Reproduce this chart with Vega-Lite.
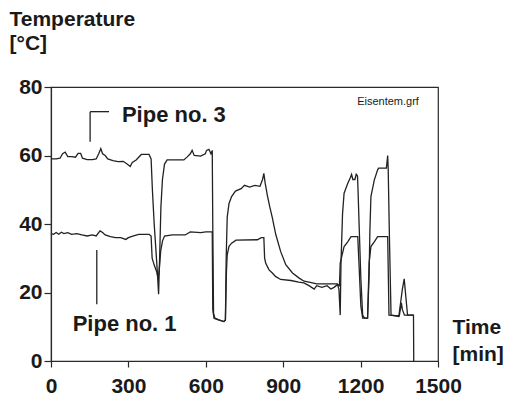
{
  "$schema": "https://vega.github.io/schema/vega-lite/v6.json",
  "width": 387,
  "height": 274,
  "autosize": {"type": "none"},
  "padding": {"left": 51, "top": 87, "right": 69, "bottom": 36},
  "background": "white",
  "config": {
    "view": {"stroke": "#2a2a2a", "strokeWidth": 1.2},
    "font": "Liberation Sans",
    "axis": {"grid": false, "domainColor": "#2a2a2a", "tickColor": "#2a2a2a", "labelColor": "#1a1a1a", "titleColor": "#1a1a1a", "labelFont": "Liberation Sans", "labelFontWeight": "bold", "labelFontSize": 21, "titleFont": "Liberation Sans", "titleFontWeight": "bold", "titleFontSize": 21, "domainWidth": 1.2, "tickWidth": 1.2}
  },
  "datasets": {
    "series": [
      {"pipe": "3", "t": 0, "temp": 59}, {"pipe": "3", "t": 20, "temp": 59}, {"pipe": "3", "t": 35, "temp": 59.2}, {"pipe": "3", "t": 45, "temp": 60.5}, {"pipe": "3", "t": 55, "temp": 61}, {"pipe": "3", "t": 65, "temp": 59.7}, {"pipe": "3", "t": 80, "temp": 59.7}, {"pipe": "3", "t": 95, "temp": 59.5}, {"pipe": "3", "t": 105, "temp": 60.6}, {"pipe": "3", "t": 115, "temp": 60.6}, {"pipe": "3", "t": 122, "temp": 59.2}, {"pipe": "3", "t": 140, "temp": 58.8}, {"pipe": "3", "t": 160, "temp": 58.8}, {"pipe": "3", "t": 175, "temp": 59}, {"pipe": "3", "t": 185, "temp": 60.5}, {"pipe": "3", "t": 193, "temp": 62}, {"pipe": "3", "t": 200, "temp": 60.5}, {"pipe": "3", "t": 210, "temp": 60}, {"pipe": "3", "t": 220, "temp": 59}, {"pipe": "3", "t": 240, "temp": 58.5}, {"pipe": "3", "t": 260, "temp": 58.2}, {"pipe": "3", "t": 280, "temp": 58.3}, {"pipe": "3", "t": 295, "temp": 57.5}, {"pipe": "3", "t": 307, "temp": 56.8}, {"pipe": "3", "t": 315, "temp": 58}, {"pipe": "3", "t": 330, "temp": 58.7}, {"pipe": "3", "t": 350, "temp": 60.3}, {"pipe": "3", "t": 380, "temp": 60.3}, {"pipe": "3", "t": 388, "temp": 59}, {"pipe": "3", "t": 393, "temp": 50}, {"pipe": "3", "t": 400, "temp": 40}, {"pipe": "3", "t": 407, "temp": 32}, {"pipe": "3", "t": 413, "temp": 25}, {"pipe": "3", "t": 417, "temp": 19.5}, {"pipe": "3", "t": 421, "temp": 30}, {"pipe": "3", "t": 426, "temp": 45}, {"pipe": "3", "t": 432, "temp": 53}, {"pipe": "3", "t": 440, "temp": 57.5}, {"pipe": "3", "t": 450, "temp": 58.7}, {"pipe": "3", "t": 515, "temp": 58.7}, {"pipe": "3", "t": 528, "temp": 59.6}, {"pipe": "3", "t": 540, "temp": 60.5}, {"pipe": "3", "t": 547, "temp": 61.5}, {"pipe": "3", "t": 555, "temp": 60}, {"pipe": "3", "t": 580, "temp": 59.8}, {"pipe": "3", "t": 598, "temp": 60.5}, {"pipe": "3", "t": 603, "temp": 61.5}, {"pipe": "3", "t": 612, "temp": 61.8}, {"pipe": "3", "t": 620, "temp": 60.5}, {"pipe": "3", "t": 625, "temp": 61.5}, {"pipe": "3", "t": 627, "temp": 40}, {"pipe": "3", "t": 630, "temp": 14}, {"pipe": "3", "t": 635, "temp": 12.5}, {"pipe": "3", "t": 650, "temp": 12}, {"pipe": "3", "t": 670, "temp": 11.5}, {"pipe": "3", "t": 676, "temp": 12}, {"pipe": "3", "t": 679, "temp": 30}, {"pipe": "3", "t": 683, "temp": 42}, {"pipe": "3", "t": 690, "temp": 46}, {"pipe": "3", "t": 700, "temp": 48}, {"pipe": "3", "t": 715, "temp": 49.6}, {"pipe": "3", "t": 737, "temp": 50.3}, {"pipe": "3", "t": 750, "temp": 51.3}, {"pipe": "3", "t": 770, "temp": 50.8}, {"pipe": "3", "t": 790, "temp": 51.3}, {"pipe": "3", "t": 810, "temp": 51}, {"pipe": "3", "t": 820, "temp": 53}, {"pipe": "3", "t": 825, "temp": 54.8}, {"pipe": "3", "t": 830, "temp": 52}, {"pipe": "3", "t": 838, "temp": 48.6}, {"pipe": "3", "t": 848, "temp": 45}, {"pipe": "3", "t": 858, "temp": 41.8}, {"pipe": "3", "t": 871, "temp": 37}, {"pipe": "3", "t": 890, "temp": 32}, {"pipe": "3", "t": 910, "temp": 28.1}, {"pipe": "3", "t": 936, "temp": 25.7}, {"pipe": "3", "t": 962, "temp": 24.2}, {"pipe": "3", "t": 981, "temp": 23.3}, {"pipe": "3", "t": 1000, "temp": 23}, {"pipe": "3", "t": 1030, "temp": 22.5}, {"pipe": "3", "t": 1110, "temp": 22.5}, {"pipe": "3", "t": 1116, "temp": 21}, {"pipe": "3", "t": 1121, "temp": 13.4}, {"pipe": "3", "t": 1124, "temp": 28.6}, {"pipe": "3", "t": 1130, "temp": 43}, {"pipe": "3", "t": 1136, "temp": 49}, {"pipe": "3", "t": 1150, "temp": 51.8}, {"pipe": "3", "t": 1160, "temp": 53.5}, {"pipe": "3", "t": 1165, "temp": 54.5}, {"pipe": "3", "t": 1170, "temp": 53}, {"pipe": "3", "t": 1178, "temp": 53}, {"pipe": "3", "t": 1183, "temp": 54.5}, {"pipe": "3", "t": 1188, "temp": 54}, {"pipe": "3", "t": 1190, "temp": 50}, {"pipe": "3", "t": 1195, "temp": 38}, {"pipe": "3", "t": 1201, "temp": 24}, {"pipe": "3", "t": 1208, "temp": 13.4}, {"pipe": "3", "t": 1215, "temp": 12.5}, {"pipe": "3", "t": 1227, "temp": 12.5}, {"pipe": "3", "t": 1233, "temp": 25}, {"pipe": "3", "t": 1236, "temp": 38}, {"pipe": "3", "t": 1240, "temp": 48}, {"pipe": "3", "t": 1253, "temp": 52.8}, {"pipe": "3", "t": 1266, "temp": 55.8}, {"pipe": "3", "t": 1270, "temp": 56.3}, {"pipe": "3", "t": 1300, "temp": 56.3}, {"pipe": "3", "t": 1305, "temp": 60}, {"pipe": "3", "t": 1307, "temp": 56}, {"pipe": "3", "t": 1312, "temp": 35}, {"pipe": "3", "t": 1318, "temp": 13.4}, {"pipe": "3", "t": 1348, "temp": 13}, {"pipe": "3", "t": 1355, "temp": 17}, {"pipe": "3", "t": 1362, "temp": 21}, {"pipe": "3", "t": 1369, "temp": 24}, {"pipe": "3", "t": 1375, "temp": 19}, {"pipe": "3", "t": 1382, "temp": 13.4}, {"pipe": "3", "t": 1405, "temp": 13.4}, {"pipe": "3", "t": 1406, "temp": 0},
      {"pipe": "1", "t": 0, "temp": 37.2}, {"pipe": "1", "t": 10, "temp": 37}, {"pipe": "1", "t": 20, "temp": 37.5}, {"pipe": "1", "t": 30, "temp": 37}, {"pipe": "1", "t": 40, "temp": 37.6}, {"pipe": "1", "t": 50, "temp": 37.2}, {"pipe": "1", "t": 65, "temp": 37.5}, {"pipe": "1", "t": 80, "temp": 37}, {"pipe": "1", "t": 100, "temp": 37.2}, {"pipe": "1", "t": 120, "temp": 36.8}, {"pipe": "1", "t": 140, "temp": 36.5}, {"pipe": "1", "t": 160, "temp": 36.8}, {"pipe": "1", "t": 175, "temp": 36.5}, {"pipe": "1", "t": 190, "temp": 38}, {"pipe": "1", "t": 200, "temp": 37.5}, {"pipe": "1", "t": 210, "temp": 36.8}, {"pipe": "1", "t": 230, "temp": 36.3}, {"pipe": "1", "t": 250, "temp": 36}, {"pipe": "1", "t": 270, "temp": 36}, {"pipe": "1", "t": 290, "temp": 35.5}, {"pipe": "1", "t": 300, "temp": 36}, {"pipe": "1", "t": 320, "temp": 36.5}, {"pipe": "1", "t": 340, "temp": 37}, {"pipe": "1", "t": 380, "temp": 37}, {"pipe": "1", "t": 388, "temp": 36.5}, {"pipe": "1", "t": 392, "temp": 30}, {"pipe": "1", "t": 400, "temp": 28}, {"pipe": "1", "t": 410, "temp": 26}, {"pipe": "1", "t": 415, "temp": 24}, {"pipe": "1", "t": 420, "temp": 27}, {"pipe": "1", "t": 425, "temp": 32}, {"pipe": "1", "t": 432, "temp": 35}, {"pipe": "1", "t": 440, "temp": 36.5}, {"pipe": "1", "t": 470, "temp": 36.8}, {"pipe": "1", "t": 520, "temp": 36.8}, {"pipe": "1", "t": 540, "temp": 37.7}, {"pipe": "1", "t": 580, "temp": 37.5}, {"pipe": "1", "t": 600, "temp": 37.7}, {"pipe": "1", "t": 625, "temp": 37.7}, {"pipe": "1", "t": 627, "temp": 15}, {"pipe": "1", "t": 632, "temp": 12.5}, {"pipe": "1", "t": 650, "temp": 12}, {"pipe": "1", "t": 670, "temp": 11.5}, {"pipe": "1", "t": 676, "temp": 12}, {"pipe": "1", "t": 680, "temp": 26}, {"pipe": "1", "t": 683, "temp": 31}, {"pipe": "1", "t": 690, "temp": 33.5}, {"pipe": "1", "t": 700, "temp": 34.4}, {"pipe": "1", "t": 717, "temp": 35.3}, {"pipe": "1", "t": 800, "temp": 35.4}, {"pipe": "1", "t": 815, "temp": 36}, {"pipe": "1", "t": 825, "temp": 36}, {"pipe": "1", "t": 828, "temp": 30}, {"pipe": "1", "t": 832, "temp": 28.6}, {"pipe": "1", "t": 845, "temp": 26.6}, {"pipe": "1", "t": 858, "temp": 25.7}, {"pipe": "1", "t": 870, "temp": 24.7}, {"pipe": "1", "t": 890, "temp": 23.8}, {"pipe": "1", "t": 930, "temp": 23.5}, {"pipe": "1", "t": 960, "temp": 23}, {"pipe": "1", "t": 980, "temp": 22.8}, {"pipe": "1", "t": 1000, "temp": 22}, {"pipe": "1", "t": 1020, "temp": 21}, {"pipe": "1", "t": 1030, "temp": 22}, {"pipe": "1", "t": 1050, "temp": 21.5}, {"pipe": "1", "t": 1070, "temp": 22}, {"pipe": "1", "t": 1085, "temp": 21}, {"pipe": "1", "t": 1097, "temp": 21.5}, {"pipe": "1", "t": 1110, "temp": 22.3}, {"pipe": "1", "t": 1118, "temp": 22}, {"pipe": "1", "t": 1121, "temp": 28.6}, {"pipe": "1", "t": 1130, "temp": 31.5}, {"pipe": "1", "t": 1136, "temp": 33.4}, {"pipe": "1", "t": 1150, "temp": 34.8}, {"pipe": "1", "t": 1163, "temp": 36.3}, {"pipe": "1", "t": 1189, "temp": 36.3}, {"pipe": "1", "t": 1194, "temp": 28}, {"pipe": "1", "t": 1201, "temp": 16}, {"pipe": "1", "t": 1208, "temp": 12.5}, {"pipe": "1", "t": 1227, "temp": 12.5}, {"pipe": "1", "t": 1233, "temp": 28.6}, {"pipe": "1", "t": 1240, "temp": 33.4}, {"pipe": "1", "t": 1253, "temp": 34.8}, {"pipe": "1", "t": 1266, "temp": 36.3}, {"pipe": "1", "t": 1305, "temp": 36.3}, {"pipe": "1", "t": 1310, "temp": 13.4}, {"pipe": "1", "t": 1350, "temp": 13.2}, {"pipe": "1", "t": 1358, "temp": 17}, {"pipe": "1", "t": 1362, "temp": 15}, {"pipe": "1", "t": 1370, "temp": 13.4}, {"pipe": "1", "t": 1405, "temp": 13.4}
    ],
    "labels": [
      {"t": 275, "temp": 69.9, "text": "Pipe no. 3"},
      {"t": 84, "temp": 8.8, "text": "Pipe no. 1"}
    ],
    "note": [
      {"t": 1426, "temp": 75.7, "text": "Eisentem.grf"}
    ],
    "leaders": [
      {"t": 151.6, "t2": 225, "temp": 72.8, "temp2": 72.8},
      {"t": 151.6, "t2": 151.6, "temp": 64, "temp2": 72.8},
      {"t": 177.5, "t2": 177.5, "temp": 16.6, "temp2": 32.4}
    ]
  },
  "layer": [
    {
      "data": {"name": "series"},
      "mark": {"type": "line", "color": "#222222", "strokeWidth": 1.3, "interpolate": "linear"},
      "encoding": {
        "x": {"field": "t", "type": "quantitative", "scale": {"domain": [0, 1500], "nice": false},
          "axis": {"values": [0, 300, 600, 900, 1200, 1500], "format": "d", "tickSize": 6, "labelPadding": 8, "labelFlush": false, "labelOverlap": false,
            "title": ["Time", "[min]"], "titleAngle": 0, "titleAlign": "left", "titleBaseline": "alphabetic", "titleX": 401, "titleY": -28, "titleLineHeight": 27}},
        "y": {"field": "temp", "type": "quantitative", "scale": {"domain": [0, 80], "nice": false},
          "axis": {"values": [0, 20, 40, 60, 80], "tickSize": 7, "labelPadding": 2, "labelFlush": false, "labelOverlap": false,
            "title": ["Temperature", "[°C]"], "titleAngle": 0, "titleAlign": "left", "titleBaseline": "alphabetic", "titleX": -42, "titleY": -62, "titleLineHeight": 24}},
        "detail": {"field": "pipe", "type": "nominal"}
      }
    },
    {
      "data": {"name": "leaders"},
      "mark": {"type": "rule", "color": "#222222", "strokeWidth": 1.3},
      "encoding": {
        "x": {"field": "t", "type": "quantitative"},
        "x2": {"field": "t2"},
        "y": {"field": "temp", "type": "quantitative"},
        "y2": {"field": "temp2"}
      }
    },
    {
      "data": {"name": "labels"},
      "mark": {"type": "text", "align": "left", "baseline": "alphabetic", "font": "Liberation Sans", "fontWeight": "bold", "fontSize": 22, "color": "#1a1a1a"},
      "encoding": {
        "x": {"field": "t", "type": "quantitative"},
        "y": {"field": "temp", "type": "quantitative"},
        "text": {"field": "text"}
      }
    },
    {
      "data": {"name": "note"},
      "mark": {"type": "text", "align": "right", "baseline": "middle", "font": "Liberation Sans", "fontSize": 11, "color": "#1a1a1a"},
      "encoding": {
        "x": {"field": "t", "type": "quantitative"},
        "y": {"field": "temp", "type": "quantitative"},
        "text": {"field": "text"}
      }
    }
  ]
}
